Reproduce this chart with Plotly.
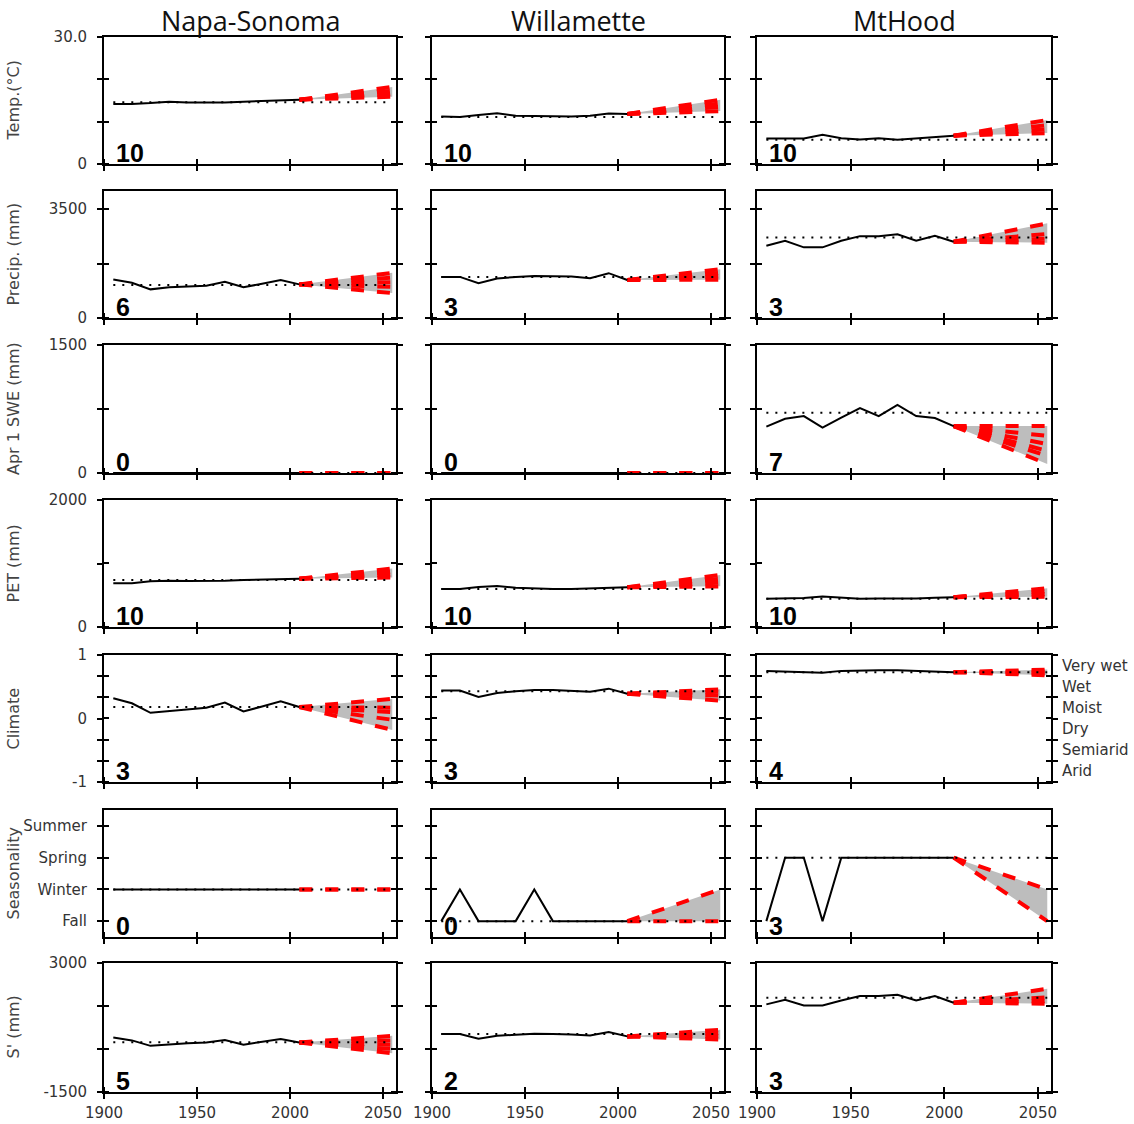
import plotly.graph_objects as go

sites = ["Napa-Sonoma", "Willamette", "MtHood"]
years = [1905, 1915, 1925, 1935, 1945, 1955, 1965, 1975, 1985, 1995, 2005]
future_years = [2005, 2055]

# historical decadal values, one list per site (Napa, Willamette, MtHood)
temp_hist = [
    [14.2, 14.2, 14.4, 14.7, 14.5, 14.5, 14.5, 14.7, 14.9, 15.1, 15.2],
    [11.2, 11.1, 11.6, 12.0, 11.4, 11.3, 11.3, 11.2, 11.4, 11.9, 11.8],
    [6.0, 6.0, 6.0, 6.9, 6.1, 5.8, 6.1, 5.7, 6.0, 6.4, 6.7],
]
precip_hist = [
    [1240, 1130, 920, 990, 1010, 1040, 1160, 990, 1100, 1220, 1080],
    [1320, 1320, 1120, 1270, 1320, 1350, 1340, 1330, 1280, 1440, 1220],
    [2320, 2480, 2270, 2270, 2480, 2630, 2630, 2690, 2480, 2640, 2450],
]
swe_hist = [
    [0, 0, 0, 0, 0, 0, 0, 0, 0, 0, 0],
    [0, 0, 0, 0, 0, 0, 0, 0, 0, 0, 0],
    [543, 636, 667, 531, 648, 760, 667, 798, 667, 644, 550],
]
pet_hist = [
    [690, 690, 720, 730, 725, 725, 730, 740, 750, 755, 760],
    [600, 600, 630, 645, 620, 605, 600, 600, 605, 620, 625],
    [445, 450, 455, 480, 460, 445, 450, 445, 450, 460, 470],
]
climate_hist = [
    [0.32, 0.24, 0.09, 0.12, 0.15, 0.17, 0.25, 0.11, 0.19, 0.27, 0.18],
    [0.44, 0.44, 0.34, 0.40, 0.43, 0.45, 0.45, 0.44, 0.42, 0.47, 0.39],
    [0.75, 0.74, 0.72, 0.72, 0.75, 0.76, 0.76, 0.76, 0.75, 0.75, 0.73],
]
season_hist = [
    [1, 1, 1, 1, 1, 1, 1, 1, 1, 1, 1],
    [0, 1, 0, 0, 0, 1, 0, 0, 0, 0, 0],
    [0, 2, 2, 0, 2, 2, 2, 2, 2, 2, 2],
]
storage_hist = [
    [400, 300, 110, 160, 200, 230, 310, 150, 250, 350, 230],
    [520, 520, 360, 460, 500, 530, 520, 510, 470, 590, 440],
    [1556, 1720, 1520, 1520, 1695, 1850, 1850, 1895, 1695, 1850, 1615],
]

# 20th-century baseline (dotted line)
temp_base = [14.6, 11.1, 5.7]
precip_base = [1060, 1320, 2590]
swe_base = [0, 0, 706]
pet_base = [739, 600, 443]
climate_base = [0.18, 0.43, 0.73]
season_base = [1, 0, 2]
storage_base = [234, 523, 1790]

# projected 2055 values of the scenario runs
temp_future = [[15.9, 16.6, 17.3, 18.2], [12.5, 13.5, 14.3, 15.2], [7.3, 8.2, 9.2, 10.4]]
precip_future = [[800, 1000, 1150, 1300, 1450], [1230, 1350, 1450, 1570], [2420, 2550, 2700, 3040]]
swe_future = [[0, 0], [0, 0], [550, 435, 340, 260, 200, 105]]
pet_future = [[780, 830, 870, 920], [640, 700, 760, 820], [475, 520, 560, 610]]
climate_future = [[0.31, 0.17, 0.10, -0.02, -0.18], [0.46, 0.42, 0.36, 0.28], [0.68, 0.71, 0.74, 0.77]]
season_future = [[1, 1], [0, 1], [0, 1]]
storage_future = [[460, 300, 150, 0, -150], [330, 450, 560, 670], [1580, 1680, 1800, 2100]]

# significance counts shown in each panel
temp_count = [10, 10, 10]
precip_count = [6, 3, 3]
swe_count = [0, 0, 7]
pet_count = [10, 10, 10]
climate_count = [3, 3, 4]
season_count = [0, 0, 3]
storage_count = [5, 2, 3]

row_labels = ["Temp.(°C)", "Precip. (mm)", "Apr 1 SWE (mm)", "PET (mm)", "Climate", "Seasonality", "S' (mm)"]
climate_classes = ["Very wet", "Wet", "Moist", "Dry", "Semiarid", "Arid"]
climate_class_pos = [5 / 6, 0.5, 1 / 6, -1 / 6, -0.5, -5 / 6]

rows = [
    (temp_hist, temp_base, temp_future, temp_count, [0, 30], [0, 10, 20, 30], ["0", "", "", "30.0"]),
    (precip_hist, precip_base, precip_future, precip_count, [0, 4080], [0, 1750, 3500], ["0", "", "3500"]),
    (swe_hist, swe_base, swe_future, swe_count, [0, 1500], [0, 750, 1500], ["0", "", "1500"]),
    (pet_hist, pet_base, pet_future, pet_count, [0, 2000], [0, 1000, 2000], ["0", "", "2000"]),
    (climate_hist, climate_base, climate_future, climate_count, [-1, 1],
     [-1, -2 / 3, -1 / 3, 0, 1 / 3, 2 / 3, 1], ["-1", "", "", "0", "", "", "1"]),
    (season_hist, season_base, season_future, season_count, [-0.5, 3.5], [0, 1, 2, 3],
     ["Fall", "Winter", "Spring", "Summer"]),
    (storage_hist, storage_base, storage_future, storage_count, [-1500, 3000],
     [-1500, 0, 1500, 3000], ["-1500", "", "", "3000"]),
]

W, H = 1134, 1124
col_px = [(104, 396), (432, 724), (757, 1051)]
row_px = [(37, 164), (191, 318), (345, 473), (500, 627), (655, 782), (810, 937), (963, 1092)]
xticks = [1900, 1950, 2000, 2050]
tickfont = dict(family="DejaVu Sans", size=15, color="#333")

fig = go.Figure()
annotations = []

for r, (hist, base, future, count, yrange, yticks, ytext) in enumerate(rows):
    for c in range(3):
        n = r * 3 + c + 1
        suffix = "" if n == 1 else str(n)
        xa, ya = "x" + suffix, "y" + suffix
        ends = future[c]
        start = hist[c][-1]
        # gray envelope of projections
        fig.add_trace(go.Scatter(
            x=[future_years[0], future_years[1], future_years[1], future_years[0]],
            y=[start, max(ends), min(ends), start],
            fill="toself", fillcolor="#bdbdbd", mode="lines", line=dict(width=0),
            xaxis=xa, yaxis=ya, showlegend=False, hoverinfo="skip"))
        for v in ends:
            fig.add_trace(go.Scatter(
                x=future_years, y=[start, v], mode="lines",
                line=dict(color="#ff0000", width=4, dash="13px,13px"),
                xaxis=xa, yaxis=ya, showlegend=False))
        fig.add_trace(go.Scatter(
            x=years, y=hist[c], mode="lines", line=dict(color="black", width=2),
            xaxis=xa, yaxis=ya, showlegend=False))
        fig.add_trace(go.Scatter(
            x=[years[0], future_years[1]], y=[base[c], base[c]], mode="lines",
            line=dict(color="black", width=2, dash="2px,7px"),
            xaxis=xa, yaxis=ya, showlegend=False))

        x0, x1 = col_px[c]
        y0, y1 = row_px[r]
        fig.layout["xaxis" + suffix] = dict(
            domain=[x0 / W, x1 / W], anchor=ya, range=[1900, 2057],
            tickmode="array", tickvals=xticks, ticktext=[str(t) for t in xticks],
            showticklabels=(r == 6), tickfont=tickfont, ticklabelstandoff=1,
            showline=True, linecolor="black", linewidth=2, mirror=True,
            ticks="outside", ticklen=5, tickwidth=2, tickcolor="black",
            minor=dict(tickmode="array", tickvals=[t + 0.01 for t in xticks],
                       ticks="inside", ticklen=5, tickwidth=2, tickcolor="black"),
            showgrid=False, zeroline=False, fixedrange=True, automargin=False)
        fig.layout["yaxis" + suffix] = dict(
            domain=[1 - y1 / H, 1 - y0 / H], anchor=xa, range=yrange,
            tickmode="array", tickvals=yticks, ticktext=ytext,
            showticklabels=(c == 0), tickfont=tickfont, ticklabelstandoff=7,
            showline=True, linecolor="black", linewidth=2, mirror="allticks",
            ticks="outside", ticklen=5, tickwidth=2, tickcolor="black",
            minor=dict(tickmode="array", tickvals=[t + (yrange[1] - yrange[0]) * 1e-4 for t in yticks],
                       ticks="inside", ticklen=5, tickwidth=2, tickcolor="black"),
            showgrid=False, zeroline=False, fixedrange=True, automargin=False)

        annotations.append(dict(
            text=f"<b>{count[c]}</b>", xref=f"{xa} domain", yref=f"{ya} domain",
            x=0.035, y=-0.04, xanchor="left", yanchor="bottom", showarrow=False,
            font=dict(family="Liberation Sans", size=25, color="black")))

    annotations.append(dict(
        text=row_labels[r], xref="paper", yref="paper", x=13 / W,
        y=1 - (row_px[r][0] + row_px[r][1]) / 2 / H, textangle=-90,
        xanchor="center", yanchor="middle", showarrow=False,
        font=dict(family="DejaVu Sans", size=16, color="#444")))

for c, site in enumerate(sites):
    annotations.append(dict(
        text=site, xref="paper", yref="paper", x=(col_px[c][0] + col_px[c][1]) / 2 / W,
        y=1, xanchor="center", yanchor="top", showarrow=False,
        font=dict(family="Open Sans", size=27, color="#111")))

for label, pos in zip(climate_classes, climate_class_pos):
    annotations.append(dict(
        text=label, xref="x15 domain", yref="y15", x=1.0, xshift=9, y=pos,
        xanchor="left", yanchor="middle", showarrow=False,
        font=dict(family="DejaVu Sans", size=15, color="#333")))

fig.update_layout(
    width=W, height=H, margin=dict(l=0, r=0, t=0, b=0, pad=0, autoexpand=False),
    plot_bgcolor="white", paper_bgcolor="white",
    annotations=annotations, showlegend=False)

fig.write_html("out.html", config={"displayModeBar": False},
               post_script="document.body.style.margin = '0px';")
